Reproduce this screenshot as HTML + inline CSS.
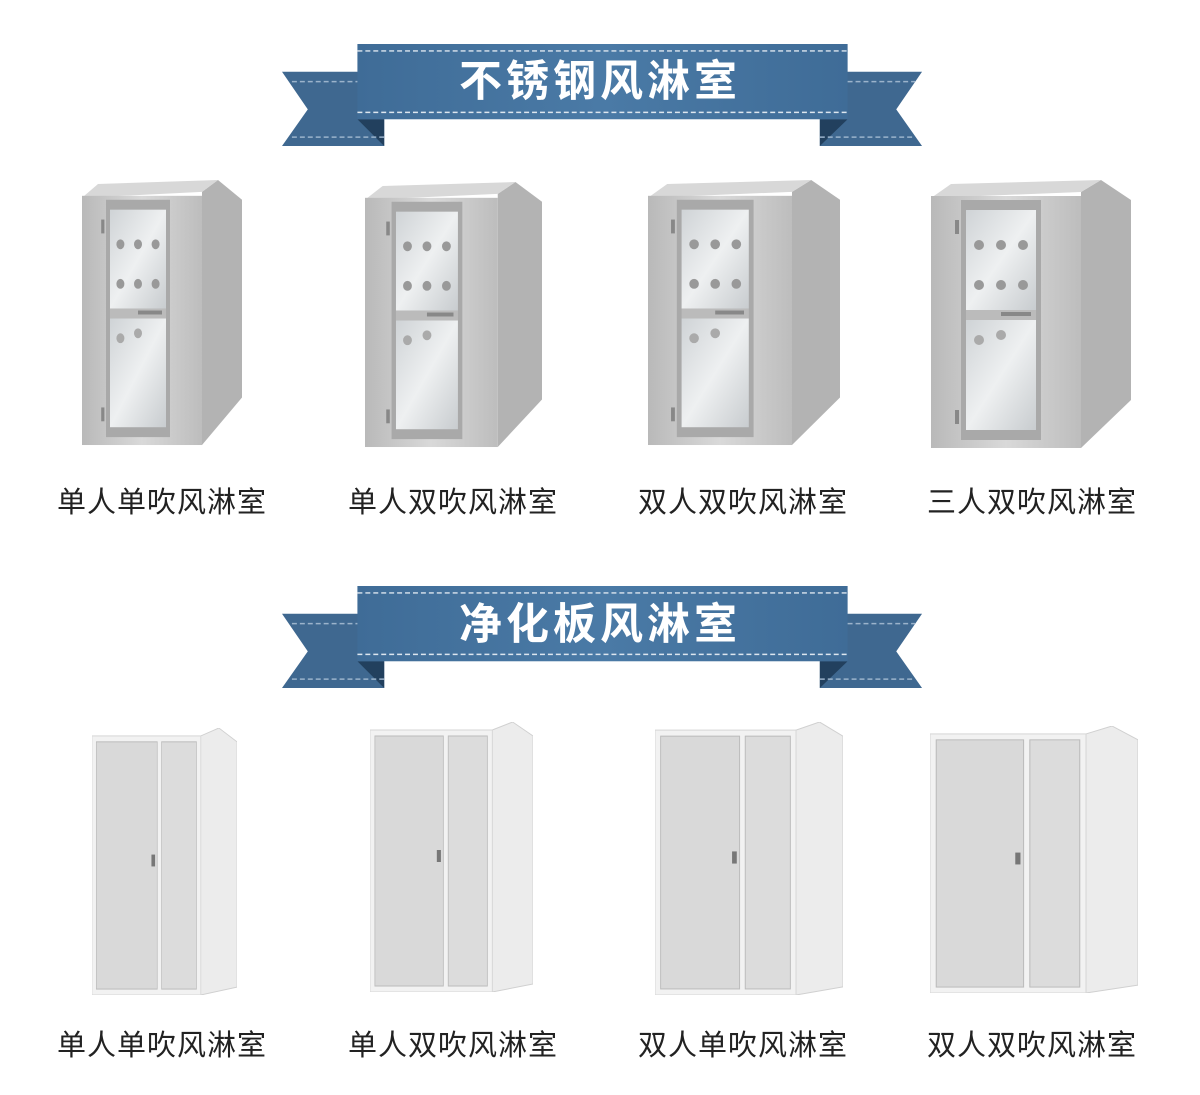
<!DOCTYPE html>
<html><head><meta charset="utf-8"><style>
html,body{margin:0;padding:0;background:#fff;}
body{width:1200px;height:1095px;position:relative;overflow:hidden;font-family:"Liberation Sans","Noto Sans CJK SC",sans-serif;}
.lbl{position:absolute;width:260px;text-align:center;font-size:29px;color:#222;letter-spacing:1px;}
</style></head><body>
<svg width="1200" height="1095" style="position:absolute;left:0;top:0">
<defs>
<linearGradient id="st" x1="0" x2="1"><stop offset="0" stop-color="#b9b9b9"/><stop offset=".5" stop-color="#d9d9d9"/><stop offset="1" stop-color="#bdbdbd"/></linearGradient>
<linearGradient id="gl" x1="0" x2="1" y1="0" y2="1"><stop offset="0" stop-color="#cfd3d6"/><stop offset=".5" stop-color="#eef0f1"/><stop offset="1" stop-color="#c8cccf"/></linearGradient>
<linearGradient id="bn" x1="0" x2="1"><stop offset="0" stop-color="#3f6c97"/><stop offset=".5" stop-color="#4a7aa6"/><stop offset="1" stop-color="#3f6c97"/></linearGradient>
<symbol id="ss" viewBox="0 0 200 270" preserveAspectRatio="none">
<polygon points="150,12 170,0 200,20 200,220 150,268" fill="#b3b3b3"/>
<polygon points="0,18 150,12 170,0 20,4" fill="#d8d8d8"/>
<rect x="0" y="16" width="150" height="252" fill="url(#st)"/>
<rect x="30" y="20" width="80" height="240" fill="#a9a9a9"/>
<rect x="35" y="30" width="70" height="100" fill="url(#gl)"/>
<rect x="35" y="140" width="70" height="110" fill="url(#gl)"/>
<rect x="35" y="130" width="70" height="10" fill="#bbb"/>
<rect x="70" y="132" width="30" height="4" fill="#888"/>
<circle cx="48" cy="65" r="5" fill="#999"/><circle cx="70" cy="65" r="5" fill="#999"/><circle cx="92" cy="65" r="5" fill="#999"/>
<circle cx="48" cy="105" r="5" fill="#999"/><circle cx="70" cy="105" r="5" fill="#999"/><circle cx="92" cy="105" r="5" fill="#999"/>
<circle cx="48" cy="160" r="5" fill="#aaa"/><circle cx="70" cy="155" r="5" fill="#aaa"/>
<rect x="24" y="40" width="4" height="14" fill="#888"/><rect x="24" y="230" width="4" height="14" fill="#888"/>
</symbol>
<symbol id="pp" viewBox="0 0 200 270" preserveAspectRatio="none">
<polygon points="150,8 175,0 200,14 200,262 150,270" fill="#ececec" stroke="#d0d0d0"/>
<rect x="0" y="8" width="150" height="262" fill="#f2f2f2" stroke="#d6d6d6"/>
<rect x="6" y="14" width="84" height="250" fill="#d9d9d9" stroke="#bbb"/>
<rect x="96" y="14" width="48" height="250" fill="#dcdcdc" stroke="#bbb"/>
<rect x="82" y="128" width="5" height="12" fill="#777"/>
</symbol>
<symbol id="ban" viewBox="0 0 650 105" preserveAspectRatio="none">
<polygon points="0,28 103,28 103,103 0,103 26,66" fill="#3f6890"/>
<polygon points="645,28 542,28 542,103 645,103 619,66" fill="#3f6890"/>
<polygon points="76,76 103,103 103,76" fill="#22405e"/>
<polygon points="570,76 542,103 542,76" fill="#22405e"/>
<rect x="76" y="0" width="494" height="76" fill="url(#bn)"/>
<line x1="76" y1="7" x2="570" y2="7" stroke="#dde6ef" stroke-width="1.5" stroke-dasharray="5,3"/>
<line x1="76" y1="69" x2="570" y2="69" stroke="#dde6ef" stroke-width="1.5" stroke-dasharray="5,3"/>
<line x1="10" y1="38" x2="76" y2="38" stroke="#9bb3cb" stroke-width="1.5" stroke-dasharray="5,3"/>
<line x1="10" y1="94" x2="103" y2="94" stroke="#9bb3cb" stroke-width="1.5" stroke-dasharray="5,3"/>
<line x1="570" y1="38" x2="638" y2="38" stroke="#9bb3cb" stroke-width="1.5" stroke-dasharray="5,3"/>
<line x1="542" y1="94" x2="638" y2="94" stroke="#9bb3cb" stroke-width="1.5" stroke-dasharray="5,3"/>
</symbol>
</defs>
<use href="#ban" x="282" y="44" width="645" height="104"/>
<use href="#ban" x="282" y="586" width="645" height="104"/>
<text x="600" y="96" font-size="43" font-weight="bold" fill="#fff" text-anchor="middle" font-family="Liberation Sans,Noto Sans CJK SC,sans-serif" letter-spacing="4">不锈钢风淋室</text>
<text x="600" y="639" font-size="43" font-weight="bold" fill="#fff" text-anchor="middle" font-family="Liberation Sans,Noto Sans CJK SC,sans-serif" letter-spacing="4">净化板风淋室</text>
<use href="#ss" x="82" y="180" width="160" height="267"/>
<use href="#ss" x="365" y="182" width="177" height="267"/>
<use href="#ss" x="648" y="180" width="192" height="267"/>
<use href="#ss" x="931" y="180" width="200" height="270"/>
<use href="#pp" x="92" y="728" width="145" height="267"/>
<use href="#pp" x="370" y="722" width="163" height="270"/>
<use href="#pp" x="655" y="722" width="188" height="273"/>
<use href="#pp" x="930" y="726" width="208" height="267"/>
</svg>
<div class="lbl" style="left:32px;top:479px">单人单吹风淋室</div>
<div class="lbl" style="left:323px;top:479px">单人双吹风淋室</div>
<div class="lbl" style="left:613px;top:479px">双人双吹风淋室</div>
<div class="lbl" style="left:902px;top:479px">三人双吹风淋室</div>
<div class="lbl" style="left:32px;top:1022px">单人单吹风淋室</div>
<div class="lbl" style="left:323px;top:1022px">单人双吹风淋室</div>
<div class="lbl" style="left:613px;top:1022px">双人单吹风淋室</div>
<div class="lbl" style="left:902px;top:1022px">双人双吹风淋室</div>
</body></html>
